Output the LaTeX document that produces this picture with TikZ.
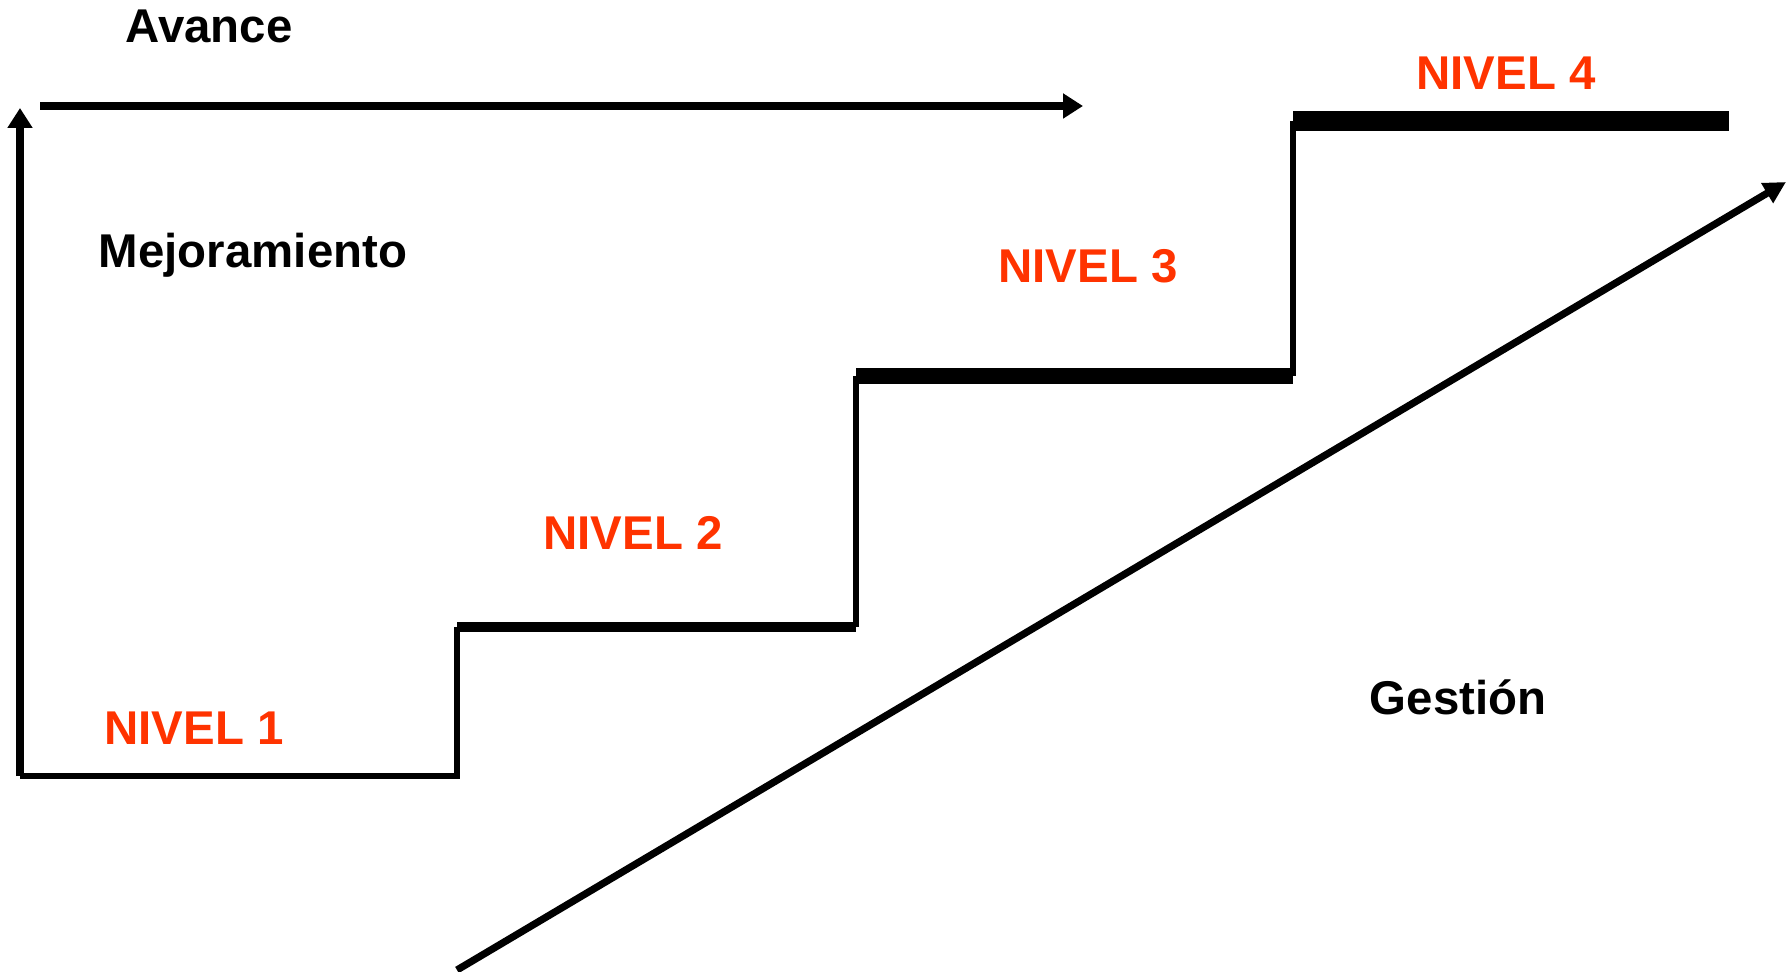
\documentclass[tikz,border=0pt]{standalone}
\usepackage{fontspec}
\setmainfont{Liberation Sans}
\usetikzlibrary{arrows.meta}
\definecolor{nivred}{HTML}{FF3300}
\begin{document}
\begin{tikzpicture}[x=0.5pt,y=-0.5pt,
  lbl/.style={font=\bfseries\fontsize{23.7pt}{28pt}\selectfont, anchor=base, inner sep=0pt},
  niv/.style={lbl, text=nivred},
  riser/.style={line width=2.8pt, line cap=butt},
  axis/.style={line width=3.8pt, -{Triangle[length=10pt,width=12pt]}}]
\useasboundingbox (0,0) rectangle (1789,972);
% corner coordinates
\coordinate (o) at (20,776);
\coordinate (ytop) at (20,108);
\coordinate (xs) at (40,106);
\coordinate (xe) at (1083,106);
\coordinate (a) at (457,776);
\coordinate (b) at (457,627);
\coordinate (c) at (856,627);
\coordinate (d) at (856,376);
\coordinate (e) at (1293,376);
\coordinate (f) at (1293,121);
\coordinate (g) at (1729,121);
\coordinate (gs) at (457,970);
\coordinate (ge) at (1786,182);
% axes
\draw[axis] (o) -- (ytop);
\draw[axis] (xs) -- (xe);
% staircase
\draw[riser] (o) -- (a) -- (b);
\draw[line width=5pt] (b) -- (c);
\draw[riser] (c) -- (d);
\draw[line width=8pt] (d) -- (e);
\draw[riser] (e) -- (f);
\draw[line width=10pt] (f) -- (g);
% gestion arrow
\draw[line width=3.6pt, -{Triangle[length=11pt,width=11pt]}] (gs) -- (ge);
% labels
\node[lbl] (avance) at (209,43) {Avance};
\node[lbl] (mejor) at (253,268) {Mejoramiento};
\node[lbl] (gestion) at (1458,715) {Gestión};
\node[niv] (n1) at (194,744) {NIVEL 1};
\node[niv] (n2) at (633,550) {NIVEL 2};
\node[niv] (n3) at (1088,283) {NIVEL 3};
\node[niv] (n4) at (1506,90) {NIVEL 4};
\end{tikzpicture}
\end{document}
